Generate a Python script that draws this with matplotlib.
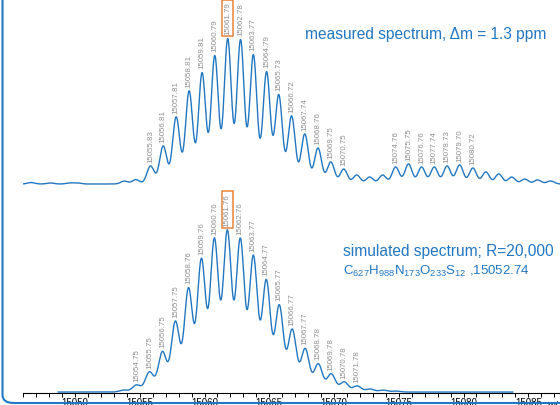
import numpy as np
import matplotlib.pyplot as plt
from matplotlib.patches import FancyBboxPatch

plt.rcParams['font.family'] = ['Liberation Sans', 'DejaVu Sans']

# measured spectrum: peak centroids (m/z) and relative heights (%)
meas_mz = [15046.6, 15048.1, 15049.6, 15050.2, 15053.8, 15054.7,
           15055.83, 15056.81, 15057.81, 15058.81, 15059.81, 15060.79,
           15061.79, 15062.78, 15063.77, 15064.79, 15065.73, 15066.72,
           15067.74, 15068.76, 15069.75, 15070.75, 15071.75, 15072.75,
           15073.75, 15074.76, 15075.75, 15076.76, 15077.74, 15078.73,
           15079.70, 15080.72, 15081.72, 15082.72, 15083.72, 15084.72,
           15085.72, 15086.72]
meas_int = [1.0, 0.7, 0.7, 0.7, 2.0, 3.0,
            12.4, 26.2, 46.2, 64.1, 76.6, 88.3,
            100.0, 99.3, 89.0, 77.2, 61.4, 46.9,
            34.5, 24.8, 15.2, 10.3, 6.2, 4.8,
            6.2, 11.7, 13.8, 11.7, 11.7, 12.4,
            13.1, 11.0, 8.3, 6.9, 4.8, 3.4,
            2.8, 2.1]
meas_labels = ["15055.83", "15056.81", "15057.81", "15058.81", "15059.81",
               "15060.79", "15061.79", "15062.78", "15063.77", "15064.79",
               "15065.73", "15066.72", "15067.74", "15068.76", "15069.75",
               "15070.75", "15074.76", "15075.75", "15076.76", "15077.74",
               "15078.73", "15079.70", "15080.72"]
meas_range = (15045.9, 15087.5)

# simulated spectrum
sim_mz = [15053.75, 15054.75, 15055.75, 15056.75, 15057.75, 15058.76,
          15059.76, 15060.76, 15061.76, 15062.76, 15063.77, 15064.77,
          15065.77, 15066.77, 15067.77, 15068.78, 15069.78, 15070.78,
          15071.78, 15072.78, 15073.78, 15074.78]
sim_int = [1.2, 4.4, 12.5, 25.0, 43.8, 64.4,
           82.5, 95.0, 100.0, 95.0, 84.4, 69.4,
           53.8, 38.8, 26.9, 17.5, 11.3, 6.3,
           3.8, 1.9, 1.2, 0.6]
sim_labels = ["15054.75", "15055.75", "15056.75", "15057.75", "15058.76",
              "15059.76", "15060.76", "15061.76", "15062.76", "15063.77",
              "15064.77", "15065.77", "15066.77", "15067.77", "15068.78",
              "15069.78", "15070.78", "15071.78"]
sim_range = (15048.7, 15083.8)

boxed = ["15061.79", "15061.76"]
xlim = (15045.98, 15087.45)

blue = '#2277c2'
gray = '#909090'
orange = '#e8823a'


def profile(x, mz, inten, sigma):
    y = np.zeros_like(x)
    for m, h in zip(mz, inten):
        y += h * np.exp(-0.5 * ((x - m) / sigma) ** 2)
    return y


fig = plt.figure(figsize=(5.6, 4.06), dpi=100)
W, H = 560, 406
ax_top = fig.add_axes([23 / W, (H - 190) / H, 537 / W, 190 / H])
ax_bot = fig.add_axes([23 / W, 12 / H, 537 / W, 188 / H], sharex=ax_top)


def draw(ax, mz, inten, rng, sigma, labels):
    x = np.linspace(rng[0], rng[1], 4000)
    y = profile(x, mz, inten, sigma)
    ax.plot(x, y, color=blue, lw=1.0)
    for lab in labels:
        m = float(lab)
        h = profile(np.array([m]), mz, inten, sigma)[0]
        kw = {}
        if lab in boxed:
            kw['bbox'] = dict(boxstyle='square,pad=0.25', fc='none', ec=orange, lw=1.1)
        ax.annotate(lab, (m, h), xytext=(0, 3), textcoords='offset points',
                    rotation=90, ha='center', va='bottom', fontsize=5.7,
                    color=gray, annotation_clip=False, **kw)


draw(ax_top, meas_mz, meas_int, meas_range, 0.28, meas_labels)
draw(ax_bot, sim_mz, sim_int, sim_range, 0.32, sim_labels)

ax_top.set_xlim(*xlim)
ax_top.set_ylim(-3.45, 127.6)
ax_top.axis('off')

ax_bot.set_ylim(-0.6, 116.9)
for s in ['top', 'left', 'right']:
    ax_bot.spines[s].set_visible(False)
ax_bot.spines['bottom'].set_linewidth(0.8)
ax_bot.set_yticks([])
ax_bot.set_xticks(np.arange(15050, 15086, 5))
ax_bot.set_xticks(np.arange(15046, 15088, 1), minor=True)
ax_bot.tick_params(axis='x', which='both', direction='out', length=3,
                   width=0.7, labelsize=7, pad=0)
ax_bot.text(15086.5, -0.035, "m/z", transform=ax_bot.get_xaxis_transform(),
            fontsize=7, va='top', ha='left')

fig.text(305 / W, (H - 39.5) / H, "measured spectrum, Δm = 1.3 ppm",
         color=blue, fontsize=11.2, va='baseline')
fig.text(343 / W, (H - 256) / H, "simulated spectrum; R=20,000",
         color=blue, fontsize=11.2, va='baseline')
fig.text(343 / W, (H - 275) / H,
         r"C$\mathregular{_{627}}$H$\mathregular{_{988}}$N$\mathregular{_{173}}$"
         r"O$\mathregular{_{233}}$S$\mathregular{_{12}}$ ,15052.74",
         color=blue, fontsize=9.5, va='baseline')

frame = FancyBboxPatch((2.5 / W, 2 / H), 2.0, 2.0, transform=fig.transFigure,
                       boxstyle='round,pad=0,rounding_size=0.02',
                       fc='none', ec=blue, lw=1.5, clip_on=False)
fig.patches.append(frame)

plt.savefig('out.png', dpi=100)
